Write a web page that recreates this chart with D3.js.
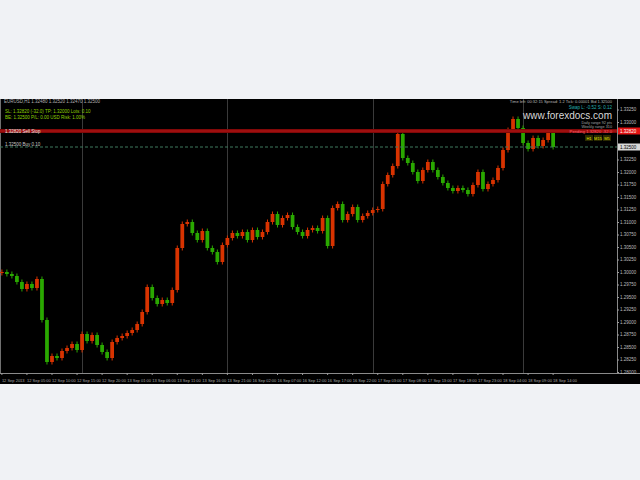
<!DOCTYPE html>
<html>
<head>
<meta charset="utf-8">
<script src="https://cdn.jsdelivr.net/npm/d3@7"></script>
<style>
html,body{margin:0;padding:0;background:#f0f2f5;}
svg{display:block;}
text{font-family:"Liberation Sans",Arial,sans-serif;}
</style>
</head>
<body>
<svg id="c" width="640" height="480"></svg>
<script>
// ---- data ----
const closes = [
1.3000,1.2996,1.2992,1.2980,1.2966,1.2976,1.2968,1.2986,1.2904,1.2820,
1.2832,1.2828,1.2842,1.2848,1.2856,1.2844,1.2876,1.2862,1.2874,1.2854,
1.2840,1.2828,1.2860,1.2868,1.2872,1.2878,1.2884,1.2896,1.2920,1.2970,
1.2948,1.2936,1.2944,1.2938,1.2964,1.3048,1.3096,1.3100,1.3078,1.3064,
1.3082,1.3048,1.3040,1.3020,1.3054,1.3068,1.3078,1.3072,1.3080,1.3064,
1.3084,1.3070,1.3080,1.3100,1.3116,1.3094,1.3108,1.3114,1.3090,1.3080,
1.3072,1.3084,1.3088,1.3082,1.3108,1.3052,1.3128,1.3136,1.3104,1.3116,
1.3130,1.3104,1.3112,1.3118,1.3124,1.3126,1.3176,1.3194,1.3212,1.3276,
1.3228,1.3218,1.3200,1.3182,1.3204,1.3220,1.3204,1.3190,1.3178,1.3168,
1.3162,1.3168,1.3164,1.3156,1.3174,1.3200,1.3166,1.3176,1.3184,1.3208,
1.3244,1.3284,1.3306,1.3288,1.3258,1.3246,1.3268,1.3252,1.3264,1.3278,
1.3250];
const firstOpen = 1.2998;
const timeLabels = [
"12 Sep 2013","12 Sep 05:00","12 Sep 10:00","12 Sep 15:00","12 Sep 20:00",
"13 Sep 01:00","13 Sep 06:00","13 Sep 11:00","13 Sep 16:00","13 Sep 21:00",
"16 Sep 02:00","16 Sep 07:00","16 Sep 12:00","16 Sep 17:00","16 Sep 22:00",
"17 Sep 03:00","17 Sep 08:00","17 Sep 13:00","17 Sep 18:00","17 Sep 23:00",
"18 Sep 04:00","18 Sep 09:00","18 Sep 14:00"];
const labelEvery = 5;
const separatorIdx = [16,45,74,104];
const priceTicks = d3.range(0,22).map(i => +(1.2800 + i*0.0025).toFixed(4));
const pendingLevel = 1.3282;
const lastLevel = 1.3250;
const symbolHeader = "EURUSD,H1 1.32480 1.32520 1.32470 1.32500";
const infoLines = ["SL: 1.32820 (-32.0) TP: 1.32000 Lots: 0.10","BE: 1.32500 P/L: 0.00 USD Risk: 1.00%"];
const rightLines = ["Time left: 00:32:15 Spread: 1.2 Tick: 0.00001 Bid 1.32500","Swap L: -0.52  S: 0.12","www.forexdocs.com","Daily range 92 pts","Weekly range 310","Pending 1.32820 -32.0"];
const boxTexts = ["H1","M15","M5"];

// ---- layout ----
const svg = d3.select("#c");
const chartTop = 99, chartBottom = 384, plotBottom = 373, axisX = 617;
svg.append("rect").attr("x",0).attr("y",chartTop).attr("width",640).attr("height",chartBottom-chartTop).attr("fill","#000");

const y = d3.scaleLinear().domain([1.2800,1.3344]).range([372,100]);
const x = d3.scaleBand().domain(d3.range(closes.length)).range([0,closes.length*5]).paddingInner(0.25);

// grid separators
svg.selectAll("line.sep").data(separatorIdx).enter().append("line")
  .attr("x1",d=>Math.round(x(d)+x.bandwidth()/2)+0.5).attr("x2",d=>Math.round(x(d)+x.bandwidth()/2)+0.5)
  .attr("y1",chartTop).attr("y2",plotBottom).attr("stroke","#3a3a3a").attr("stroke-width",1);

// left border
svg.append("line").attr("x1",0.5).attr("x2",0.5).attr("y1",chartTop).attr("y2",plotBottom).attr("stroke","#707070");

// candles
const candles = closes.map((c,i)=>({i, o: i===0?firstOpen:closes[i-1], c}));
const g = svg.append("g");
candles.forEach(d=>{
  const col = d.c >= d.o ? "#d83300" : "#2aa800";
  const cx = x(d.i)+x.bandwidth()/2;
  const yt = Math.min(y(d.o),y(d.c)), yb = Math.max(y(d.o),y(d.c));
  g.append("line").attr("x1",cx).attr("x2",cx).attr("y1",yt-2.5).attr("y2",yb+2.5).attr("stroke",col).attr("stroke-width",1);
  g.append("rect").attr("x",x(d.i)).attr("y",yt).attr("width",x.bandwidth()).attr("height",Math.max(1,yb-yt)).attr("fill",col);
});

// horizontal levels
svg.append("line").attr("x1",0).attr("x2",axisX).attr("y1",y(pendingLevel)).attr("y2",y(pendingLevel))
  .attr("stroke","#800808").attr("stroke-width",4);
svg.append("line").attr("x1",0).attr("x2",axisX).attr("y1",y(pendingLevel)).attr("y2",y(pendingLevel))
  .attr("stroke","#a81212").attr("stroke-width",1.5);
svg.append("line").attr("x1",0).attr("x2",axisX).attr("y1",y(lastLevel)).attr("y2",y(lastLevel))
  .attr("stroke","#3f7a5e").attr("stroke-width",1).attr("stroke-dasharray","3,2");
svg.append("text").attr("x",5).attr("y",y(pendingLevel)+1.5).attr("font-size",4.5).attr("fill","#e8e8e8").text("1.32820 Sell Stop");
svg.append("text").attr("x",5).attr("y",y(lastLevel)-1).attr("font-size",4.5).attr("fill","#c8c8c8").text("1.32500 Buy 0.10");

// axes separators
svg.append("line").attr("x1",axisX+0.5).attr("x2",axisX+0.5).attr("y1",chartTop).attr("y2",plotBottom).attr("stroke","#8a8a8a");
svg.append("line").attr("x1",0).attr("x2",640).attr("y1",plotBottom+0.5).attr("y2",plotBottom+0.5).attr("stroke","#8a8a8a");

// price axis (skip ticks hidden under highlighted labels)
const shownTicks = priceTicks.filter(v => Math.abs(y(v)-y(pendingLevel))>6 && Math.abs(y(v)-y(lastLevel))>6 && y(v)>104);
const ya = d3.axisRight(y).tickValues(shownTicks).tickSize(2).tickFormat(d=>d.toFixed(5));
const yg = svg.append("g").attr("transform",`translate(${axisX},0)`).call(ya);
yg.select(".domain").remove();
yg.selectAll("line").attr("stroke","#9a9a9a");
yg.selectAll("text").attr("fill","#bdbdbd").attr("font-size",4.5).attr("x",3);
// highlighted price labels
svg.append("rect").attr("x",axisX+1).attr("y",y(pendingLevel)-3.5).attr("width",22).attr("height",7).attr("fill","#e31414");
svg.append("text").attr("x",axisX+3).attr("y",y(pendingLevel)+1.5).attr("font-size",4.5).attr("fill","#fff").text(pendingLevel.toFixed(5));
svg.append("rect").attr("x",axisX+1).attr("y",y(lastLevel)-3.5).attr("width",22).attr("height",7).attr("fill","#d8d8d8");
svg.append("text").attr("x",axisX+3).attr("y",y(lastLevel)+1.5).attr("font-size",4.5).attr("fill","#000").text(lastLevel.toFixed(5));

// time axis
const tIdx = timeLabels.map((t,k)=>k*labelEvery);
const xa = d3.axisBottom(x).tickValues(tIdx).tickSize(2).tickFormat((d,k)=>timeLabels[k]);
const xg = svg.append("g").attr("transform",`translate(0,${plotBottom})`).call(xa);
xg.select(".domain").remove();
xg.selectAll("line").attr("stroke","#9a9a9a");
xg.selectAll("text").attr("fill","#a8a8a8").attr("font-size",4).attr("text-anchor","start").attr("dy","1em");

// header texts
svg.append("text").attr("x",4).attr("y",103).attr("font-size",4.5).attr("fill","#b0b0b0").text(symbolHeader);
infoLines.forEach((t,k)=>svg.append("text").attr("x",5).attr("y",113+k*6).attr("font-size",4.5).attr("fill","#8fd000").text(t));

// top right panel
svg.append("text").attr("x",612).attr("y",103).attr("text-anchor","end").attr("font-size",4).attr("fill","#b8b8b8").text(rightLines[0]);
svg.append("text").attr("x",612).attr("y",109).attr("text-anchor","end").attr("font-size",4.5).attr("fill","#22b0b0").text(rightLines[1]);
svg.append("text").attr("x",612).attr("y",119).attr("text-anchor","end").attr("font-size",10).attr("fill","#d8d8d8").text(rightLines[2]);
svg.append("text").attr("x",612).attr("y",124).attr("text-anchor","end").attr("font-size",3.8).attr("fill","#a0a0a0").text(rightLines[3]);
svg.append("text").attr("x",612).attr("y",128).attr("text-anchor","end").attr("font-size",3.8).attr("fill","#a0a0a0").text(rightLines[4]);
svg.append("text").attr("x",612).attr("y",133).attr("text-anchor","end").attr("font-size",4.2).attr("fill","#ff6070").text(rightLines[5]);
boxTexts.forEach((t,k)=>{
  const bx = 585 + k*9;
  svg.append("rect").attr("x",bx).attr("y",135).attr("width",8).attr("height",6).attr("fill","#2a2a00");
  svg.append("text").attr("x",bx+4).attr("y",140).attr("text-anchor","middle").attr("font-size",4).attr("fill","#e6e600").text(t);
});
</script>
</body>
</html>
